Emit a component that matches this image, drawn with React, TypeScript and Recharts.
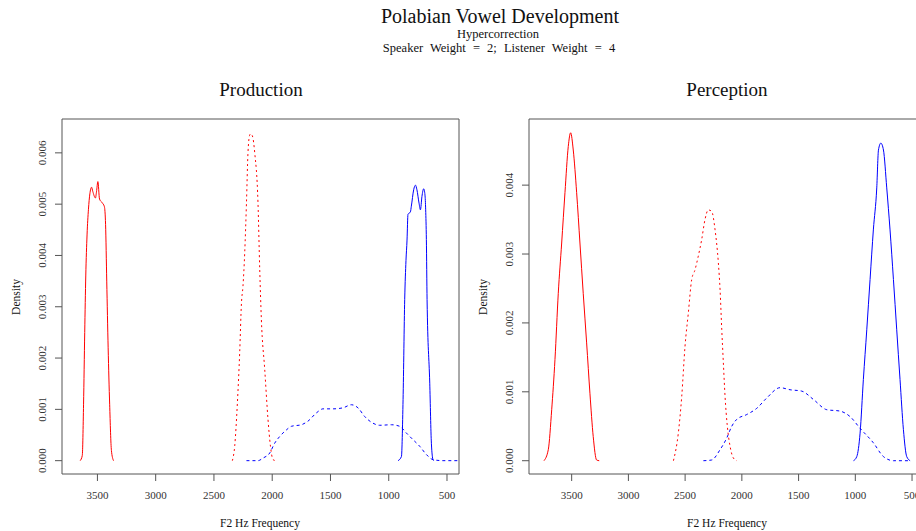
import React from "react";
import { LineChart, Line, XAxis, YAxis, ReferenceArea } from "recharts";

// [F2 Hz, density] pairs
const prodRedSolid = [
  [3648, 0], [3630, 0.0001], [3619, 0.0011], [3609, 0.0025], [3600, 0.0036],
  [3589, 0.0044], [3577, 0.0049], [3565, 0.0052], [3550, 0.00533], [3540, 0.00525],
  [3517, 0.00512], [3508, 0.00524], [3496, 0.00544], [3482, 0.0051], [3460, 0.00503],
  [3440, 0.00495], [3430, 0.0046], [3420, 0.0035], [3408, 0.0022], [3395, 0.0011],
  [3380, 0.0002], [3362, 0],
];
const prodRedDotted = [
  [2342, 0], [2322, 0.00028], [2299, 0.00112], [2279, 0.00211], [2264, 0.00307],
  [2251, 0.0034], [2236, 0.00405], [2221, 0.00502], [2208, 0.006], [2193, 0.00635],
  [2185, 0.00637], [2170, 0.00633], [2150, 0.006], [2122, 0.00502], [2107, 0.00372],
  [2093, 0.00275], [2064, 0.00177], [2036, 0.0008], [2015, 0.00028], [1993, 0.00002],
  [1970, 0],
];
const prodBlueDashed = [
  [2221, 0], [2122, 0], [2079, 0.00005], [2021, 0.00015], [1979, 0.00034],
  [1936, 0.00047], [1878, 0.0006], [1835, 0.00067], [1750, 0.0007], [1693, 0.00077],
  [1621, 0.00093], [1564, 0.00101], [1478, 0.00101], [1393, 0.00103], [1320, 0.00109],
  [1264, 0.00103], [1206, 0.00086], [1135, 0.00073], [1078, 0.00069], [977, 0.0007],
  [906, 0.00067], [849, 0.00054], [792, 0.00041], [734, 0.00028], [677, 0.00012],
  [620, 0.00002], [534, 0], [400, 0],
];
const prodBlueSolid = [
  [920, 0], [891, 0.00008], [877, 0.00119], [863, 0.00314], [852, 0.0039],
  [843, 0.0043], [835, 0.0048], [814, 0.00485], [806, 0.00496], [786, 0.00528],
  [771, 0.00537], [758, 0.00528], [740, 0.00502], [728, 0.00489], [715, 0.00515],
  [700, 0.0053], [689, 0.00518], [683, 0.00489], [677, 0.00431], [671, 0.00314],
  [648, 0.00151], [634, 0.00034], [620, 0.00002], [612, 0],
];

const percRedSolid = [
  [3744, 0], [3706, 0.00016], [3676, 0.00074], [3647, 0.00147], [3618, 0.00243],
  [3588, 0.00316], [3559, 0.00389], [3530, 0.00456], [3509, 0.00476], [3486, 0.00451],
  [3456, 0.00389], [3427, 0.00316], [3398, 0.00243], [3368, 0.00171], [3339, 0.00098],
  [3310, 0.00035], [3280, 0.00001], [3257, 0],
];
const percRedDotted = [
  [2603, 0], [2560, 0.0004], [2530, 0.00093], [2501, 0.00166], [2472, 0.00214],
  [2442, 0.00263], [2413, 0.00277], [2384, 0.00297], [2354, 0.00321], [2325, 0.0035],
  [2296, 0.00364], [2266, 0.00362], [2236, 0.00335], [2207, 0.00287], [2192, 0.00248],
  [2177, 0.0019], [2163, 0.00142], [2148, 0.00093], [2128, 0.0005], [2104, 0.00021],
  [2075, 0.00004], [2045, 0],
];
const percBlueDashed = [
  [2339, 0], [2266, 0.00001], [2192, 0.00016], [2133, 0.00033], [2089, 0.0005],
  [2045, 0.0006], [1957, 0.00067], [1869, 0.00076], [1781, 0.00091], [1663, 0.00106],
  [1575, 0.00103], [1472, 0.00101], [1370, 0.00089], [1251, 0.00074], [1134, 0.00072],
  [1046, 0.00064], [958, 0.00047], [841, 0.00026], [752, 0.00006], [664, 0], [517, 0],
];
const percBlueSolid = [
  [1016, 0], [987, 0.00006], [958, 0.0004], [929, 0.00118], [899, 0.0019],
  [870, 0.00263], [841, 0.00335], [811, 0.00396], [796, 0.00451], [775, 0.00461],
  [752, 0.00451], [723, 0.00396], [694, 0.00335], [664, 0.00263], [635, 0.0019],
  [606, 0.00118], [576, 0.00045], [547, 0.00006], [517, 0],
];

const xTicks = [3500, 3000, 2500, 2000, 1500, 1000, 500];
const prodYTicks = [0, 0.001, 0.002, 0.003, 0.004, 0.005, 0.006];
const percYTicks = [0, 0.001, 0.002, 0.003, 0.004];

const serif = '"Liberation Serif", "DejaVu Serif", serif';

const rows = (pairs: number[][]) => pairs.map(([hz, density]) => ({ hz, density }));

const RotatedTick = (props: any) => {
  const { x, y, payload } = props;
  const cx = x - 7;
  return (
    <text
      x={cx}
      y={y}
      transform={`rotate(-90 ${cx} ${y})`}
      textAnchor="middle"
      fontSize={11}
      fontFamily={serif}
      fill="#333"
    >
      {payload.value.toFixed(3)}
    </text>
  );
};

type PanelProps = {
  left: number;
  xDomain: [number, number];
  yDomain: [number, number];
  yTicks: number[];
  series: { data: number[][]; color: string; dash?: string }[];
};

function Panel({ left, xDomain, yDomain, yTicks, series }: PanelProps) {
  return (
    <div style={{ position: "absolute", left, top: 0 }}>
      <LineChart width={480} height={531} margin={{ top: 119, right: 21, bottom: 27, left: 22 }}>
        <XAxis
          type="number"
          dataKey="hz"
          domain={xDomain}
          reversed
          allowDataOverflow
          ticks={xTicks}
          height={30}
          axisLine={false}
          tickSize={7}
          tickMargin={10}
          tickLine={{ stroke: "#555" }}
          tick={{ fontSize: 11, fontFamily: serif, fill: "#333" }}
        />
        <YAxis
          type="number"
          domain={yDomain}
          allowDataOverflow
          ticks={yTicks}
          width={40}
          axisLine={false}
          tickSize={7}
          tickMargin={2}
          tickLine={{ stroke: "#555" }}
          tick={<RotatedTick />}
        />
        <ReferenceArea
          x1={xDomain[0]}
          x2={xDomain[1]}
          y1={yDomain[0]}
          y2={yDomain[1]}
          fill="none"
          stroke="#555"
          strokeWidth={1}
          ifOverflow="visible"
        />
        {series.map((s, i) => (
          <Line
            key={i}
            data={rows(s.data)}
            dataKey="density"
            type="monotone"
            stroke={s.color}
            strokeWidth={1}
            strokeDasharray={s.dash}
            dot={false}
            activeDot={false}
            isAnimationActive={false}
          />
        ))}
      </LineChart>
    </div>
  );
}

export default function App() {
  return (
    <div
      style={{
        position: "absolute",
        left: 0,
        top: 0,
        width: 916,
        height: 531,
        overflow: "hidden",
        background: "#fff",
      }}
    >
      <Panel
        left={0}
        xDomain={[397, 3804]}
        yDomain={[-0.00026, 0.00666]}
        yTicks={prodYTicks}
        series={[
          { data: prodRedSolid, color: "#FF0000" },
          { data: prodRedDotted, color: "#FF0000", dash: "2 3" },
          { data: prodBlueDashed, color: "#0000FF", dash: "3 3" },
          { data: prodBlueSolid, color: "#0000FF" },
        ]}
      />
      <Panel
        left={467}
        xDomain={[377, 3876]}
        yDomain={[-0.000193, 0.00496]}
        yTicks={percYTicks}
        series={[
          { data: percRedSolid, color: "#FF0000" },
          { data: percRedDotted, color: "#FF0000", dash: "2 3" },
          { data: percBlueDashed, color: "#0000FF", dash: "3 3" },
          { data: percBlueSolid, color: "#0000FF" },
        ]}
      />
      <svg
        width={916}
        height={531}
        style={{ position: "absolute", left: 0, top: 0, pointerEvents: "none" }}
        fontFamily={serif}
        fill="#111"
      >
        <text x={500} y={22.5} fontSize={20} textAnchor="middle">Polabian Vowel Development</text>
        <text x={498} y={38} fontSize={12.5} textAnchor="middle">Hypercorrection</text>
        <text x={499} y={52} fontSize={12.5} textAnchor="middle" wordSpacing={4}>
          Speaker Weight = 2; Listener Weight = 4
        </text>
        <text x={261} y={96} fontSize={19} textAnchor="middle">Production</text>
        <text x={727} y={96} fontSize={19} textAnchor="middle">Perception</text>
        <text x={260} y={526.5} fontSize={11.5} textAnchor="middle">F2 Hz Frequency</text>
        <text x={727} y={526.5} fontSize={11.5} textAnchor="middle">F2 Hz Frequency</text>
        <text x={19.5} y={297} fontSize={11.5} textAnchor="middle" transform="rotate(-90 19.5 297)">Density</text>
        <text x={486.5} y={297} fontSize={11.5} textAnchor="middle" transform="rotate(-90 486.5 297)">Density</text>
      </svg>
    </div>
  );
}
